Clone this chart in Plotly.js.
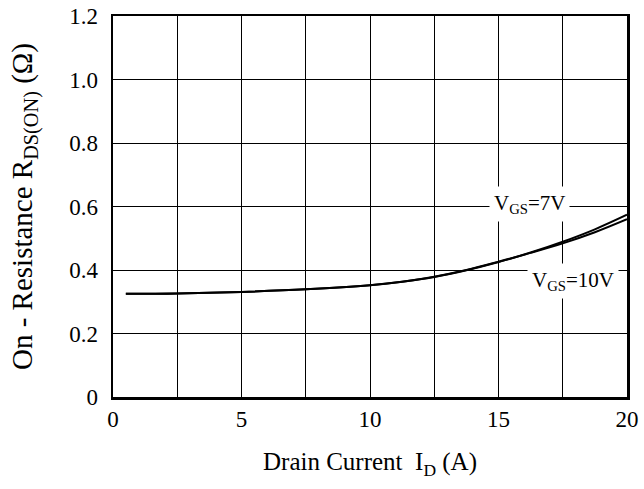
<!DOCTYPE html>
<html>
<head>
<meta charset="utf-8">
<script src="https://cdn.plot.ly/plotly-3.0.1.min.js"></script>
<style>html,body{margin:0;padding:0;background:#fff;}#chart{width:644px;height:489px;}</style>
</head>
<body>
<div id="chart"></div>
<script>
// Drain current (A)
const current = [0.5, 2.5, 5, 7.5, 10, 11.25, 12.5, 13.75, 15, 16.25, 17.5, 18.75, 20];
// R_DS(ON) at VGS = 7V (ohm)
const rds7V  = [0.325, 0.326, 0.331, 0.339, 0.352, 0.363, 0.378, 0.399, 0.425, 0.455, 0.489, 0.528, 0.574];
// R_DS(ON) at VGS = 10V (ohm)
const rds10V = [0.325, 0.326, 0.331, 0.339, 0.352, 0.363, 0.379, 0.400, 0.426, 0.454, 0.484, 0.519, 0.560];
const xTickVals = [0, 5, 10, 15, 20];
const xTickText = ['0', '5', '10', '15', '20'];
const yTickVals = [0, 0.2, 0.4, 0.6, 0.8, 1.0, 1.2];
const yTickText = ['0', '0.2', '0.4', '0.6', '0.8', '1.0', '1.2'];
const labels = ['V<sub>GS</sub>=7V', 'V<sub>GS</sub>=10V'];
const labelX = [16.2, 17.88];
const labelY = [0.607, 0.366];

const font = 'Liberation Serif, Times New Roman, serif';
const traces = [
  {x: current, y: rds7V, mode: 'lines', line: {color: '#000', width: 2, shape: 'spline'}, name: '7V'},
  {x: current, y: rds10V, mode: 'lines', line: {color: '#000', width: 2, shape: 'spline'}, name: '10V'}
];
const layout = {
  width: 644, height: 489,
  margin: {l: 113, r: 17, t: 16, b: 92},
  paper_bgcolor: '#fff', plot_bgcolor: '#fff',
  showlegend: false,
  font: {family: font, color: '#000', size: 23},
  xaxis: {
    range: [0, 20], tickmode: 'array', tickvals: xTickVals, ticktext: xTickText,
    showgrid: true, gridcolor: '#000', gridwidth: 1,
    minor: {dtick: 2.5, showgrid: true, gridcolor: '#000', gridwidth: 1, ticks: ''},
    showline: true, linecolor: '#000', linewidth: 2.5, mirror: true,
    ticks: '', ticklabelstandoff: 0, zeroline: false,
    tickfont: {family: font, size: 23},
    title: {text: 'Drain Current&nbsp; I<sub>D</sub> (A)', font: {family: font, size: 25}, standoff: 22}
  },
  yaxis: {
    range: [0, 1.2], tickmode: 'array', tickvals: yTickVals, ticktext: yTickText,
    showgrid: true, gridcolor: '#000', gridwidth: 1,
    showline: true, linecolor: '#000', linewidth: 2.5, mirror: true,
    ticks: '', ticklabelstandoff: 8, zeroline: false,
    tickfont: {family: font, size: 23},
    title: {text: 'On - Resistance R<sub>DS(ON)</sub> (Ω)', font: {family: font, size: 29}, standoff: 28}
  },
  annotations: labels.map((t, i) => ({
    x: labelX[i], y: labelY[i], xref: 'x', yref: 'y', text: t, showarrow: false,
    font: {family: font, size: 21, color: '#000'}, bgcolor: '#fff', borderpad: 4
  }))
};
Plotly.newPlot('chart', traces, layout, {displayModeBar: false, staticPlot: true});
</script>
</body>
</html>
